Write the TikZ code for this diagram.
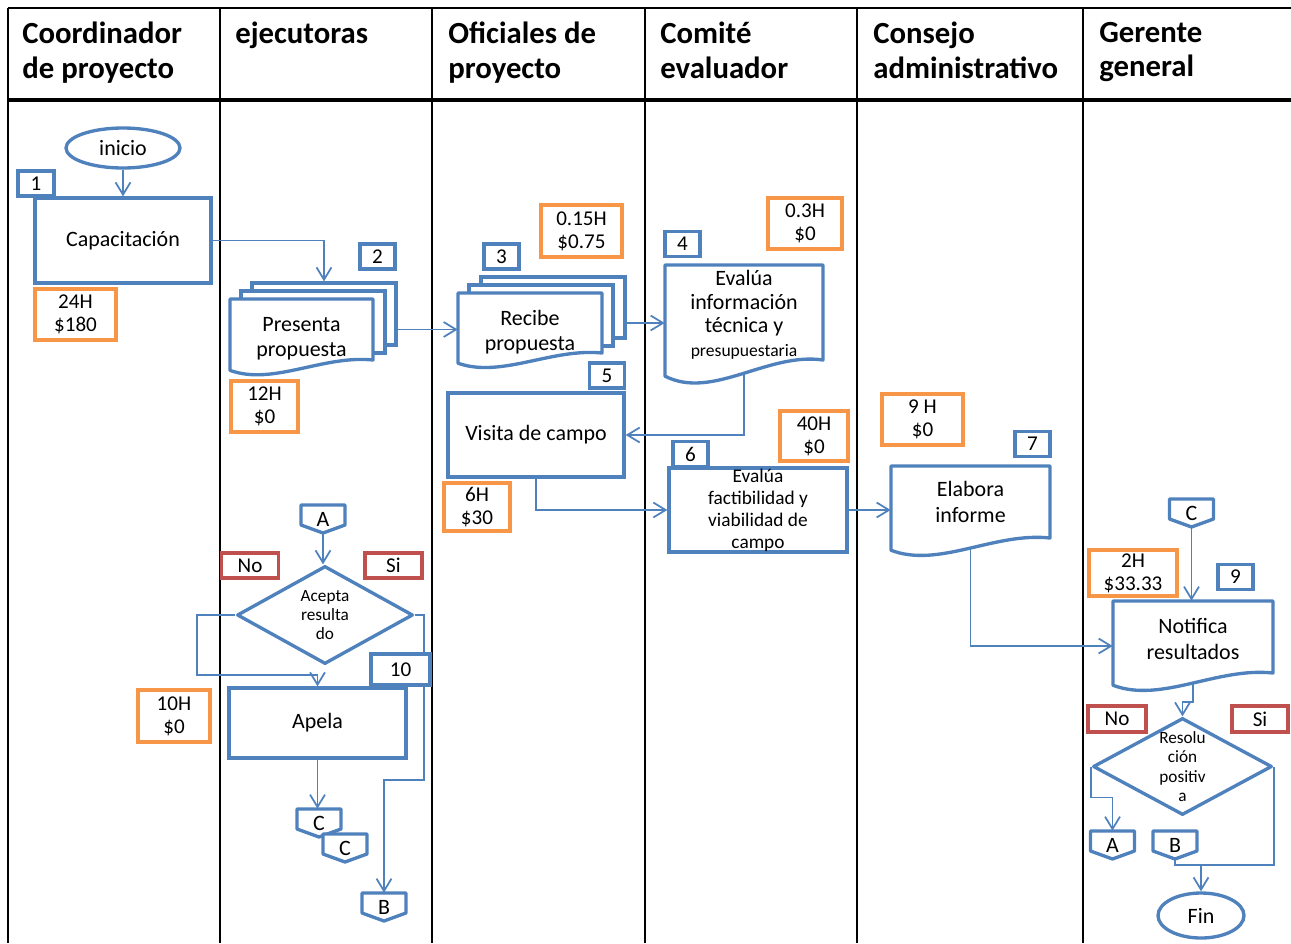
\documentclass[tikz,border=0pt]{standalone}
\usepackage{fontspec}
\setmainfont{Carlito}
\usetikzlibrary{calc,arrows.meta,shapes.geometric,backgrounds}
\definecolor{blu}{HTML}{4F81BD}
\definecolor{org}{HTML}{F79646}
\definecolor{rd}{HTML}{C0504D}
\tikzset{
  sz/.style 2 args={minimum width=#1*0.02cm, minimum height=#2*0.02cm},
  lane/.style={draw=black, line width=1.1pt},
  hdr/.style={anchor=north west, align=left, inner sep=0pt, execute at begin node=\strut,
    font=\bfseries\fontsize{17.5}{19.5}\selectfont},
  txt/.style={align=center, inner sep=0.5pt, font=\fontsize{12.5}{14.5}\selectfont},
  sm/.style={align=center, inner sep=0pt, font=\fontsize{9.8}{11}\selectfont},
  proc/.style={txt, draw=blu, line width=1.9pt, fill=white},
  num/.style={proc, sz={35}{25}, font=\fontsize{12}{14}\selectfont},
  cost/.style={txt, draw=org, line width=2pt, fill=white, font=\fontsize{12}{13}\selectfont},
  yn/.style={txt, draw=rd, line width=2pt, sz={57}{25}, font=\fontsize{12}{14}\selectfont},
  term/.style={proc, ellipse},
  dec/.style={proc, diamond, line join=round},
  flow/.style={draw=blu, line width=1pt, -{Straight Barb[length=7pt,width=8.5pt]}},
  link/.style={draw=blu, line width=1pt},
}
% document symbol: name, x, y, half width, half height, text options, text
\newcommand{\docnode}[7]{%
  \draw[draw=blu, line width=1.9pt, fill=white, line join=round]
    (#2+#4,#3+#5) -- (#2+#4,#3-#5) -- (#2-#4,#3-#5) -- (#2-#4,#3+1.34*#5)
    .. controls (#2-0.4*#4,#3+1.85*#5) and (#2+0.3*#4,#3+0.83*#5) .. (#2+#4,#3+#5) -- cycle;
  \node[sz={2*#4}{2*#5}, label={[txt, #6]center:#7}] (#1) at (#2,#3) {};
}
% off-page link: name, x, y, letter
\newcommand{\offpage}[4]{%
  \draw[draw=blu, line width=1.9pt, fill=white, line join=round]
    (#2-22,#3-14) -- (#2+22,#3-14) -- (#2+22,#3+6) -- (#2,#3+14) -- (#2-22,#3+6) -- cycle;
  \node[txt, sz={44}{28}] (#1) at (#2,#3) {#4};
}

\begin{document}
\begin{tikzpicture}[x=0.02cm, y=-0.02cm]
  \useasboundingbox (0,0) rectangle (1291,943);

  % lane headers
  \node[hdr] (h1) at (22,22) {Coordinador\\de proyecto};
  \node[hdr] (h2) at (235,19) {ejecutoras};
  \node[hdr] (h3) at (448,22) {Oficiales de\\proyecto};
  \node[hdr] (h4) at (660,22) {Comité\\evaluador};
  \node[hdr] (h5) at (873,22) {Consejo\\administrativo};
  \node[hdr] (h6) at (1099,22) {Gerente\\general};

  % coordinador
  \node[term, sz={114}{40}] (inicio) at (123,148) {inicio};
  \node[num, sz={36}{25}] (n1) at (36,183.5) {1};
  \node[proc, sz={176}{85}] (cap) at (123,240.5) {Capacitación};
  \node[cost, sz={81}{51}] (k1) at (75.5,314.5) {24H\\\$180};

  % ejecutoras
  \node[num] (n2) at (377.5,256.5) {2};
  \node[proc, sz={144}{62}] (pres3) at (324,314) {};
  \node[proc, sz={144}{62}] (pres2) at (313,322) {};
  \docnode{pres}{301.5}{329.5}{71.5}{30.5}{yshift=-0.18cm}{Presenta\\propuesta}
  \node[cost, sz={67}{51}] (k2) at (264.5,406.5) {12H\\\$0};
  \offpage{cA}{323}{519}{A}
  \node[dec, sz={176}{98}, label={[sm]center:Acepta\\resulta\\do}] (d1) at (325,615) {};
  \node[yn] (no1) at (250,565.5) {No};
  \node[yn] (si1) at (393.5,565.5) {Si};
  \node[num, sz={59}{31}] (n10) at (400.5,669.5) {10};
  \node[proc, sz={177}{70}] (apela) at (317.5,723) {Apela};
  \node[cost, sz={72}{52}] (k10) at (174,716) {10H\\\$0};
  \offpage{cC1}{319}{823}{C}
  \offpage{cC2}{345}{848}{C}
  \offpage{cB}{384}{907}{B}

  % oficiales
  \node[num] (n3) at (501.5,256.5) {3};
  \node[cost, sz={81}{52}] (k3) at (581.5,231) {0.15H\\\$0.75};
  \node[proc, sz={144}{61}] (rec3) at (553,307.5) {};
  \node[proc, sz={144}{61}] (rec2) at (541,315.5) {};
  \docnode{rec}{530}{323}{72}{30}{yshift=-0.18cm}{Recibe\\propuesta}
  \node[num] (n5) at (607,375.5) {5};
  \node[proc, sz={176}{84}] (visita) at (536,435) {Visita de campo};
  \node[cost, sz={66}{48}] (k6) at (477,507) {6H\\\$30};

  % comite
  \node[num] (n4) at (682.5,244) {4};
  \node[cost, sz={74}{51}] (k4) at (805,223.5) {0.3H\\\$0};
  \docnode{eval}{744}{312.5}{79}{47.5}{yshift=-0.05cm, font=\fontsize{12.5}{13.4}\selectfont}{Evalúa\\información\\técnica y\\{\fontsize{10}{12}\selectfont presupuestaria}}
  \node[cost, sz={68}{50}] (k40) at (814,436) {40H\\\$0};
  \node[num] (n6) at (690.5,454) {6};
  \node[proc, sz={178}{84}, inner ysep=0pt, font=\fontsize{11}{12.5}\selectfont] (fact) at (758,510) {Evalúa\\factibilidad y\\viabilidad de\\campo};

  % consejo
  \node[cost, sz={81}{51}] (k9) at (922.5,419.5) {9 H\\\$0};
  \node[num] (n7) at (1032.5,444) {7};
  \docnode{elab}{970.5}{502}{79.5}{36}{}{Elabora\\informe}

  % gerente
  \offpage{cC3}{1191.5}{513}{C}
  \node[cost, sz={88}{46}] (k2h) at (1133,573) {2H\\\$33.33};
  \node[num] (n9) at (1235.5,577) {9};
  \docnode{notif}{1193}{637}{80}{36}{yshift=-0.04cm}{Notifica\\resultados}
  \node[yn, sz={58}{26}] (no2) at (1117,719) {No};
  \node[yn, sz={56}{26}] (si2) at (1260,719) {Si};
  \node[dec, sz={179}{97}, label={[sm]center:Resolu\\ción\\positiv\\a}] (d2) at (1182.5,766.5) {};
  \offpage{cA2}{1112.5}{845}{A}
  \offpage{cB2}{1175}{845}{B}
  \node[term, sz={86}{45}] (fin) at (1201,915.5) {Fin};

  \begin{scope}[on background layer]
    % swimlanes
    \draw[lane] (8,8) -- (1291,8);
    \draw[lane, line width=2.8pt] (8,100) -- (1291,100);
    \foreach \x in {8,220,432,645,857,1083}
      \draw[lane] (\x,8) -- (\x,943);

    % connectors
    \draw[flow] (inicio) -- (cap);
    \draw[flow] (cap.east) -| (pres3.north);
    \draw[flow] (pres.east -| pres3.east) -- (pres.east -| rec.west);
    \draw[flow] (rec.east -| rec3.east) -- (rec.east -| eval.west);
    \draw[flow] (eval.south) |- (visita.east);
    \draw[flow] (visita.south) |- (fact.west);
    \draw[flow] (fact.east) -- (fact.east -| elab.west);
    \draw[flow] (elab.south) |- ($(notif.west)+(0,9)$);
    \draw[flow] (cC3.south) -- (cC3.south |- notif.north);
    \draw[flow] (notif.south) -- ++(0,29) -| (d2.north);
    \draw[flow] (d2.west) -- ++(0,31) -| (cA2.north);
    \coordinate (jn) at ($(fin.north)+(0,-26)$);
    \draw[flow] (cB2.south) |- (jn) -- (fin.north);
    \draw[link] (d2.east) |- (jn);
    \draw[flow] (cA.south) -- (cA.south |- d1.north);
    \draw[flow] (d1.west) -- ++(-38,0) |- ($(apela.north)+(0,-11)$) -- (apela.north);
    \draw[flow] (d1.east) -- ++(9,0) -- ++(0,165) -| (cB.north);
    \draw[flow] (apela.south) -- (apela.south |- cC1.north);
  \end{scope}
\end{tikzpicture}
\end{document}
